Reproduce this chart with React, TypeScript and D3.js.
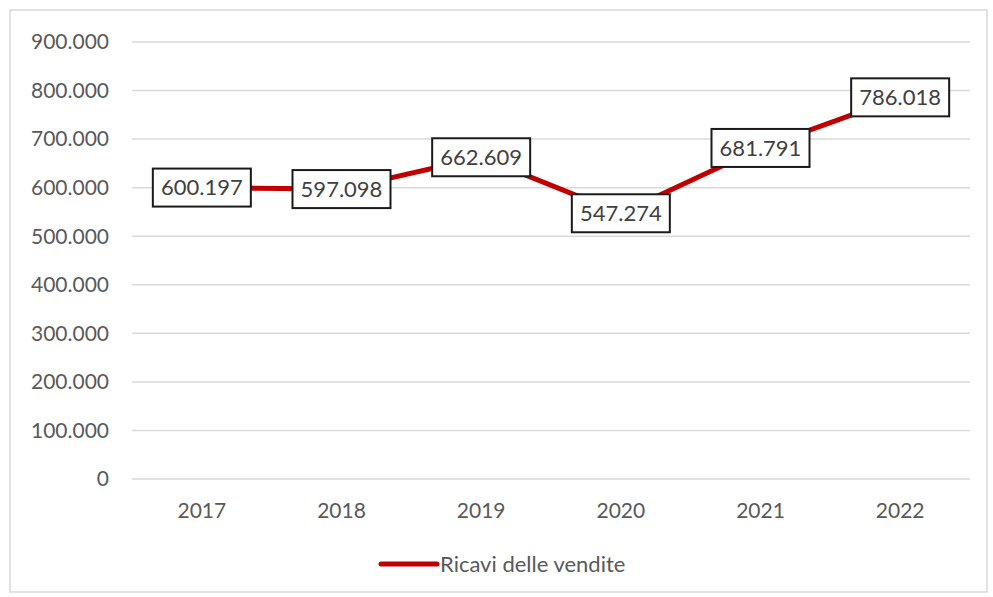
import { line, scaleLinear, scalePoint } from 'd3'

const years = ['2017', '2018', '2019', '2020', '2021', '2022']
const revenue = [600197, 597098, 662609, 547274, 681791, 786018]
const yTickValues = [0, 100000, 200000, 300000, 400000, 500000, 600000, 700000, 800000, 900000]
const seriesName = 'Ricavi delle vendite'

const width = 993
const height = 597
const plot = { left: 132, right: 970, top: 42, bottom: 479 }
const font = 'Lato, "Open Sans", sans-serif'

// Italian thousands separator
const fmtThousands = (v: number) =>
  Math.round(v)
    .toString()
    .replace(/\B(?=(\d{3})+(?!\d))/g, '.')

function App() {
  const xScale = scalePoint<string>()
    .domain(years)
    .range([plot.left, plot.right])
    .padding(0.5)

  const yScale = scaleLinear().domain([0, 900000]).range([plot.bottom, plot.top])

  const points = years.map((year, i) => ({ year, value: revenue[i] }))

  const linePath = line<{ year: string; value: number }>()
    .x((d) => xScale(d.year) ?? 0)
    .y((d) => yScale(d.value))(points)

  return (
    <svg
      width={width}
      height={height}
      viewBox={`0 0 ${width} ${height}`}
      style={{ position: 'absolute', left: 0, top: 0, background: '#fff' }}
    >
      <rect x={10} y={10} width={977} height={582} fill="#fff" stroke="#d9d9d9" strokeWidth={1.5} />

      {yTickValues.map((tick) => (
        <line
          key={tick}
          x1={plot.left}
          x2={plot.right}
          y1={yScale(tick)}
          y2={yScale(tick)}
          stroke="#d9d9d9"
          strokeWidth={1.5}
        />
      ))}

      {yTickValues.map((tick) => (
        <text
          key={`${tick}-label`}
          x={109}
          y={yScale(tick)}
          dy="0.35em"
          textAnchor="end"
          fontFamily={font}
          fontSize={21}
          fill="#595959"
        >
          {fmtThousands(tick)}
        </text>
      ))}

      {years.map((year) => (
        <text
          key={year}
          x={xScale(year) ?? 0}
          y={511}
          dy="0.35em"
          textAnchor="middle"
          fontFamily={font}
          fontSize={21}
          fill="#595959"
        >
          {year}
        </text>
      ))}

      <path d={linePath ?? ''} fill="none" stroke="#c00000" strokeWidth={5} strokeLinejoin="round" />

      {points.map((d) => {
        const cx = xScale(d.year) ?? 0
        const cy = yScale(d.value)
        const boxW = 98
        const boxH = 38
        return (
          <g key={`${d.year}-label`}>
            <rect
              x={cx - boxW / 2}
              y={cy - boxH / 2}
              width={boxW}
              height={boxH}
              fill="#fff"
              stroke="#1a1a1a"
              strokeWidth={2}
            />
            <text
              x={cx}
              y={cy}
              dy="0.36em"
              textAnchor="middle"
              fontFamily={font}
              fontSize={22}
              fill="#404040"
            >
              {fmtThousands(d.value)}
            </text>
          </g>
        )
      })}

      <line x1={381} x2={437} y1={564} y2={564} stroke="#c00000" strokeWidth={5} strokeLinecap="round" />
      <text x={440} y={564} dy="0.35em" fontFamily={font} fontSize={22} fill="#595959">
        {seriesName}
      </text>
    </svg>
  )
}

export default App
